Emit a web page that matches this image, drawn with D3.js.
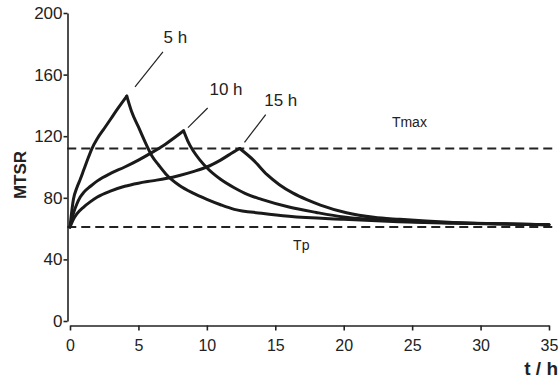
<!DOCTYPE html>
<html>
<head>
<meta charset="utf-8">
<script src="https://cdn.jsdelivr.net/npm/d3@7"></script>
<style>
  body { margin: 0; background: #fff; }
  text { font-family: "Liberation Sans", Arial, sans-serif; fill: #222; }
</style>
</head>
<body>
<div id="wrapper"></div>
<script>
// ticks
const xTicks = [0, 5, 10, 15, 20, 25, 30, 35];
const yTicks = [0, 40, 80, 120, 160, 200];

// reference levels
const tmax = 112;
const tp = 61;

// MTSR curves, [t (h), MTSR] — rise up to the end of dosing, then fall
const rise5 = [[0, 61], [0.25, 79], [0.5, 86.5], [0.75, 92], [1, 98], [1.25, 104], [1.58, 111.5],
  [2, 118.5], [2.5, 125], [3, 131.5], [3.5, 138], [4.15, 146]];
const fall5 = [[4.15, 146], [4.5, 136], [5, 126], [5.5, 116], [6, 107], [6.5, 101], [7, 95.5],
  [8, 88], [9, 83], [10, 79], [11, 75.5], [12, 72.5], [14, 70], [16, 68], [20, 66],
  [24, 64.5], [28, 63.5], [35, 62.5]];

const rise10 = [[0, 61], [0.25, 70], [0.5, 76], [0.75, 80.5], [1, 83.5], [1.5, 87.5], [2, 91],
  [3, 96], [4, 100], [5, 104.5], [6, 109.5], [7, 115], [8.3, 123.5]];
const fall10 = [[8.3, 123.5], [8.6, 117], [9, 110.5], [9.5, 104.5], [10, 99.5], [11, 92],
  [12, 86.5], [13, 82], [14, 79], [16, 74], [18, 70.5], [20, 67.5], [24, 65], [28, 63.8], [35, 62.5]];

const rise15 = [[0, 61], [0.25, 66], [0.5, 69.5], [1, 74], [1.5, 77.5], [2, 80.5], [3, 84.5],
  [4, 87.5], [5, 89.5], [6, 91], [7, 92.5], [8, 94.5], [9, 97], [10, 100], [11, 104.5],
  [12, 110], [12.4, 112]];
const fall15 = [[12.4, 112], [13.4, 104.5], [14.4, 95], [15.3, 88.5], [16.3, 83], [17.3, 78.8],
  [18.3, 75.3], [20.2, 70.3], [22.2, 67.3], [24.1, 66], [28, 64], [35, 62.5]];

// labels for the curves: text, text anchor and leader line (data units)
const curveLabels = ["5 h", "10 h", "15 h"];
const labelAt = [[7.7, 180.5], [11.4, 146.8], [15.4, 139.6]];
const leaderFrom = [[6.79, 174.7], [10.06, 138.3], [14.3, 134]];
const leaderTo = [[4.75, 152], [8.62, 125.6], [12.75, 116]];

const width = 559, height = 381;

const svg = d3.select("#wrapper")
  .append("svg")
  .attr("width", width)
  .attr("height", height);

const x = d3.scaleLinear().domain([0, 35]).range([70, 549]);
const y = d3.scaleLinear().domain([0, 200]).range([321, 13]);

// y axis
const yAxis = svg.append("g")
  .attr("transform", "translate(67.5,0)")
  .call(d3.axisLeft(y).tickValues(yTicks).tickSize(4).tickSizeOuter(0).tickPadding(1));
yAxis.selectAll("text").style("font-size", "17px");

// x axis, a bit below the y range
const xAxis = svg.append("g")
  .attr("transform", "translate(0,325.5)")
  .call(d3.axisBottom(x).tickValues(xTicks).tickSize(5).tickSizeOuter(0).tickPadding(9));
xAxis.selectAll("text").style("font-size", "16px");

svg.selectAll(".domain, .tick line")
  .attr("stroke", "#222")
  .attr("stroke-width", 1.6);
svg.selectAll(".tick text").attr("fill", "#222");

// axis titles
svg.append("text")
  .attr("transform", "translate(26,175) rotate(-90)")
  .attr("text-anchor", "middle")
  .style("font-size", "17px")
  .style("font-weight", "bold")
  .text("MTSR");

svg.append("text")
  .attr("x", 558)
  .attr("y", 375)
  .attr("text-anchor", "end")
  .style("font-size", "19px")
  .style("font-weight", "bold")
  .text("t / h");

// dashed reference lines
svg.selectAll("line.ref")
  .data([tmax, tp])
  .enter()
  .append("line")
  .attr("class", "ref")
  .attr("x1", x(-0.2))
  .attr("x2", x(35.4))
  .attr("y1", d => y(d))
  .attr("y2", d => y(d))
  .attr("stroke", "#222")
  .attr("stroke-width", 2)
  .attr("stroke-dasharray", "9,5");

svg.append("text")
  .attr("x", x(24.8))
  .attr("y", y(126.2))
  .attr("text-anchor", "middle")
  .style("font-size", "14px")
  .text("Tmax");

svg.append("text")
  .attr("x", x(16.9))
  .attr("y", y(46.1))
  .attr("text-anchor", "middle")
  .style("font-size", "14px")
  .text("Tp");

// curves
const line = d3.line()
  .x(d => x(d[0]))
  .y(d => y(d[1]))
  .curve(d3.curveMonotoneX);

svg.selectAll("path.curve")
  .data([rise5, fall5, rise10, fall10, rise15, fall15])
  .enter()
  .append("path")
  .attr("class", "curve")
  .attr("d", line)
  .attr("fill", "none")
  .attr("stroke", "#1a1a1a")
  .attr("stroke-width", 3)
  .attr("stroke-linejoin", "round")
  .attr("stroke-linecap", "round");

// curve labels with leader lines
curveLabels.forEach((lab, i) => {
  svg.append("line")
    .attr("x1", x(leaderFrom[i][0]))
    .attr("y1", y(leaderFrom[i][1]))
    .attr("x2", x(leaderTo[i][0]))
    .attr("y2", y(leaderTo[i][1]))
    .attr("stroke", "#222")
    .attr("stroke-width", 1.2);
  svg.append("text")
    .attr("x", x(labelAt[i][0]))
    .attr("y", y(labelAt[i][1]))
    .attr("text-anchor", "middle")
    .style("font-size", "17px")
    .text(lab);
});
</script>
</body>
</html>
